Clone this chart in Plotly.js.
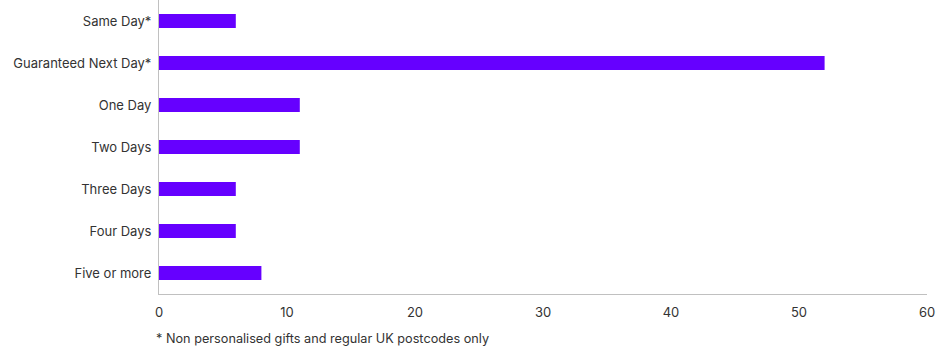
<!DOCTYPE html>
<html>
<head>
<meta charset="utf-8">
<script src="https://cdn.plot.ly/plotly-3.0.1.min.js"></script>
<style>html,body{margin:0;padding:0;background:#fff;}#chart{width:937px;height:349px;}</style>
</head>
<body>
<div id="chart"></div>
<script>
const categories = ["Same Day*", "Guaranteed Next Day*", "One Day", "Two Days", "Three Days", "Four Days", "Five or more"];
const values = [6, 52, 11, 11, 6, 6, 8];
const xTicks = [0, 10, 20, 30, 40, 50, 60];
const footnote = "* Non personalised gifts and regular UK postcodes only";

const trace = {
  type: "bar",
  orientation: "h",
  y: categories,
  x: values,
  marker: {color: "#6600ff"},
  hoverinfo: "x+y"
};

const layout = {
  width: 937,
  height: 349,
  margin: {l: 159, r: 10, t: 0, b: 55},
  paper_bgcolor: "#ffffff",
  plot_bgcolor: "#ffffff",
  font: {family: "Inter, Roboto, sans-serif", size: 13, color: "#333333"},
  bargap: 0.667,
  showlegend: false,
  xaxis: {
    range: [0, 60],
    tickvals: xTicks,
    ticktext: xTicks.map(String),
    showgrid: false,
    zeroline: false,
    showline: true,
    linecolor: "#c0c0c0",
    linewidth: 1,
    ticks: "",
    ticklabelstandoff: 6,
    fixedrange: true
  },
  yaxis: {
    type: "category",
    autorange: "reversed",
    showgrid: false,
    zeroline: false,
    showline: true,
    linecolor: "#c0c0c0",
    linewidth: 1,
    ticks: "",
    ticklabelstandoff: 4,
    fixedrange: true
  },
  annotations: [{
    text: footnote,
    xref: "paper", yref: "paper",
    x: -0.007, y: -0.153,
    xanchor: "left", yanchor: "middle",
    showarrow: false,
    font: {size: 12.7, color: "#333333"}
  }]
};

Plotly.newPlot("chart", [trace], layout, {displayModeBar: false, staticPlot: true});
</script>
</body>
</html>
